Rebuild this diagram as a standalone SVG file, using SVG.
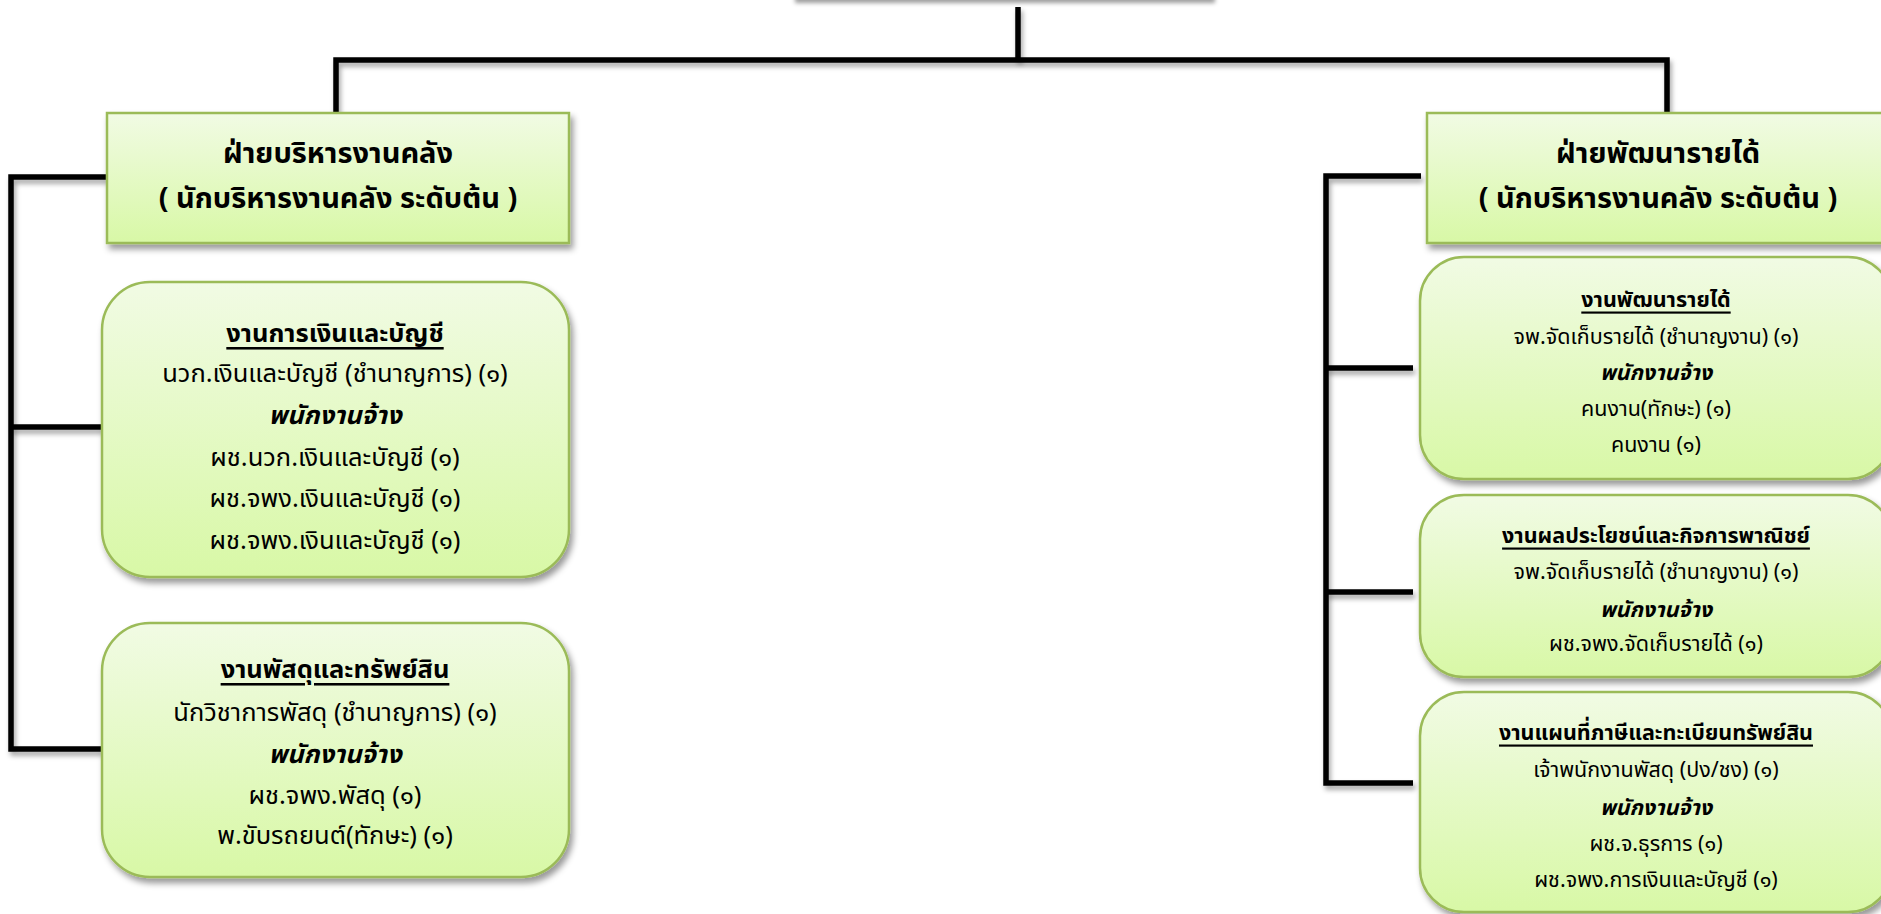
<svg xmlns="http://www.w3.org/2000/svg" width="1881" height="914" viewBox="0 0 1881 914">
<defs>
<linearGradient id="g" x1="0" y1="0" x2="0" y2="1">
<stop offset="0" stop-color="#f1fbe4"/>
<stop offset="1" stop-color="#d8f8a6"/>
</linearGradient>
<filter id="sh" filterUnits="userSpaceOnUse" x="-100" y="-200" width="2100" height="1200">
<feDropShadow dx="3" dy="5" stdDeviation="3" flood-color="#000" flood-opacity="0.4"/>
</filter>
<filter id="blur" filterUnits="userSpaceOnUse" x="700" y="-50" width="600" height="100">
<feGaussianBlur stdDeviation="2"/>
</filter>
<filter id="lsh" filterUnits="userSpaceOnUse" x="-100" y="-100" width="2100" height="1200">
<feDropShadow dx="2" dy="4" stdDeviation="2.5" flood-color="#000" flood-opacity="0.35"/>
</filter>
</defs>
<style>
.box{fill:url(#g);stroke:#9bbb59;stroke-width:2.5;filter:url(#sh)}
.ln{fill:none;stroke:#000;stroke-width:5.5;stroke-linejoin:miter;filter:url(#lsh)}
text{font-family:"Noto Sans Thai","Noto Sans Thai UI","Noto Sans","DejaVu Sans",sans-serif;fill:#000;text-anchor:middle;dominant-baseline:central}
.h{font-size:29px;font-weight:bold}
.t{font-size:25.5px}
.r{font-size:21.5px}
.u{font-weight:bold;text-decoration:underline}
.i{font-weight:bold;font-style:italic}
</style>
<rect width="1881" height="914" fill="#fff"/>
<g id="connectors">
<path class="ln" d="M1018,7 V60"/>
<path class="ln" d="M336,113 V60 H1667 V113"/>
<path class="ln" d="M107,177 H11 V749 H102"/>
<path class="ln" d="M11,427 H102"/>
<path class="ln" d="M1421,176 H1326 V783 H1413"/>
<path class="ln" d="M1326,368 H1413"/>
<path class="ln" d="M1326,592 H1413"/>
</g>
<g id="top">
<rect x="795" y="-10" width="420" height="13" fill="#000" fill-opacity="0.38" filter="url(#blur)"/>
<rect x="790" y="-82" width="422" height="79" fill="url(#g)" stroke="#9bbb59" stroke-width="2.5"/>
</g>
<g id="left-head">
<rect class="box" x="107" y="113" width="462" height="130"/>
<text class="h" x="338" y="154">ฝ่ายบริหารงานคลัง</text>
<text class="h" x="338" y="199">( นักบริหารงานคลัง ระดับต้น )</text>
</g>
<g id="left-finance">
<rect class="box" x="102" y="282" width="467" height="295" rx="48"/>
<text class="t u" x="335" y="334">งานการเงินและบัญชี</text>
<text class="t" x="335" y="374">นวก.เงินและบัญชี (ชำนาญการ) (๑)</text>
<text class="t i" x="335" y="416">พนักงานจ้าง</text>
<text class="t" x="335" y="458">ผช.นวก.เงินและบัญชี (๑)</text>
<text class="t" x="335" y="499">ผช.จพง.เงินและบัญชี (๑)</text>
<text class="t" x="335" y="541">ผช.จพง.เงินและบัญชี (๑)</text>
</g>
<g id="left-supply">
<rect class="box" x="102" y="623" width="467" height="254" rx="48"/>
<text class="t u" x="335" y="670">งานพัสดุและทรัพย์สิน</text>
<text class="t" x="335" y="713">นักวิชาการพัสดุ (ชำนาญการ) (๑)</text>
<text class="t i" x="335" y="755">พนักงานจ้าง</text>
<text class="t" x="335" y="796">ผช.จพง.พัสดุ (๑)</text>
<text class="t" x="335" y="836">พ.ขับรถยนต์(ทักษะ) (๑)</text>
</g>
<g id="right-head">
<rect class="box" x="1427" y="113" width="462" height="130"/>
<text class="h" x="1658" y="154">ฝ่ายพัฒนารายได้</text>
<text class="h" x="1658" y="199">( นักบริหารงานคลัง ระดับต้น )</text>
</g>
<g id="right-revenue">
<rect class="box" x="1420" y="257" width="472" height="222" rx="44"/>
<text class="r u" x="1656" y="300">งานพัฒนารายได้</text>
<text class="r" x="1656" y="337">จพ.จัดเก็บรายได้ (ชำนาญงาน) (๑)</text>
<text class="r i" x="1656" y="373">พนักงานจ้าง</text>
<text class="r" x="1656" y="409">คนงาน(ทักษะ) (๑)</text>
<text class="r" x="1656" y="445">คนงาน (๑)</text>
</g>
<g id="right-commerce">
<rect class="box" x="1420" y="495" width="472" height="182" rx="44"/>
<text class="r u" x="1656" y="536">งานผลประโยชน์และกิจการพาณิชย์</text>
<text class="r" x="1656" y="572">จพ.จัดเก็บรายได้ (ชำนาญงาน) (๑)</text>
<text class="r i" x="1656" y="610">พนักงานจ้าง</text>
<text class="r" x="1656" y="644">ผช.จพง.จัดเก็บรายได้ (๑)</text>
</g>
<g id="right-map">
<rect class="box" x="1420" y="692" width="472" height="220" rx="44"/>
<text class="r u" x="1656" y="733">งานแผนที่ภาษีและทะเบียนทรัพย์สิน</text>
<text class="r" x="1656" y="770">เจ้าพนักงานพัสดุ (ปง/ชง) (๑)</text>
<text class="r i" x="1656" y="808">พนักงานจ้าง</text>
<text class="r" x="1656" y="844">ผช.จ.ธุรการ (๑)</text>
<text class="r" x="1656" y="880">ผช.จพง.การเงินและบัญชี (๑)</text>
</g>
</svg>
